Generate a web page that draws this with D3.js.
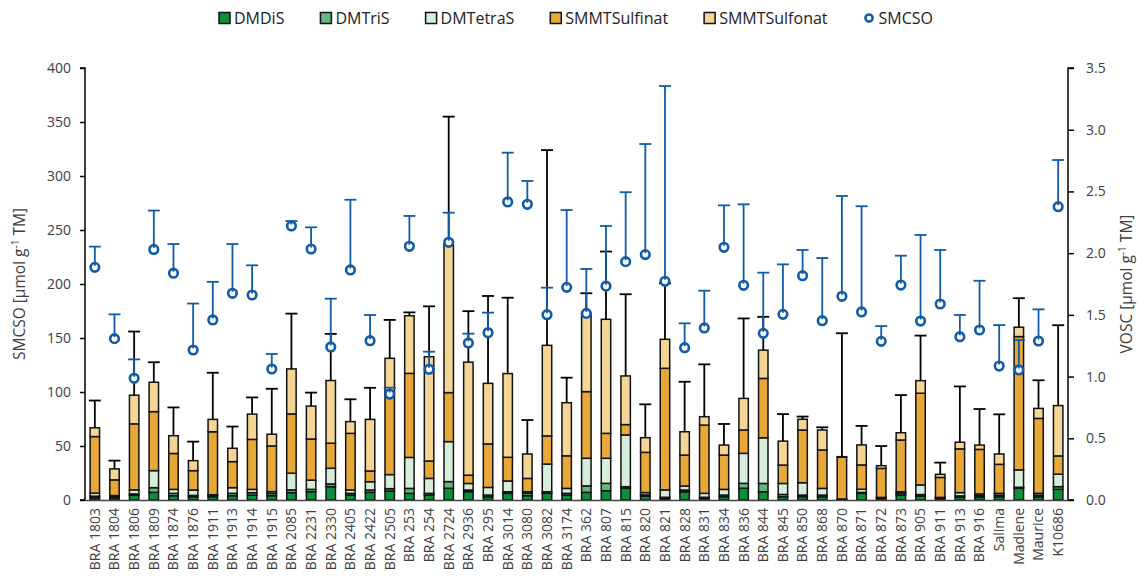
<!DOCTYPE html>
<html><head><meta charset="utf-8">
<script src="https://cdn.jsdelivr.net/npm/d3@7"></script>
<style>
html,body{margin:0;padding:0;background:#fff;}
svg{display:block;font-family:"Open Sans",sans-serif;}
</style></head>
<body><svg id="chart" width="1145" height="576"></svg>
<script>
const categories = ["BRA 1803","BRA 1804","BRA 1806","BRA 1809","BRA 1874","BRA 1876","BRA 1911","BRA 1913","BRA 1914","BRA 1915","BRA 2085","BRA 2231","BRA 2330","BRA 2405","BRA 2422","BRA 2505","BRA 253","BRA 254","BRA 2724","BRA 2936","BRA 295","BRA 3014","BRA 3080","BRA 3082","BRA 3174","BRA 362","BRA 807","BRA 815","BRA 820","BRA 821","BRA 828","BRA 831","BRA 834","BRA 836","BRA 844","BRA 845","BRA 850","BRA 868","BRA 870","BRA 871","BRA 872","BRA 873","BRA 905","BRA 911","BRA 913","BRA 916","Salima","Madlene","Maurice","K10686"];

// VOSC components (µmol g-1 TM, right axis)
const DMDiS = [0.018,0.018,0.038,0.062,0.035,0.026,0.026,0.035,0.040,0.035,0.060,0.067,0.108,0.040,0.062,0.073,0.054,0.040,0.095,0.067,0.026,0.054,0.035,0.054,0.040,0.062,0.075,0.095,0.031,0.013,0.067,0.013,0.026,0.095,0.067,0.026,0.027,0.026,0.003,0.054,0.013,0.040,0.031,0.013,0.022,0.022,0.026,0.095,0.026,0.087];
const DMTriS = [0.013,0.009,0.011,0.038,0.019,0.011,0.013,0.019,0.019,0.018,0.022,0.019,0.022,0.014,0.019,0.019,0.040,0.014,0.054,0.014,0.014,0.013,0.019,0.013,0.014,0.052,0.060,0.013,0.010,0.009,0.014,0.009,0.014,0.040,0.067,0.019,0.013,0.014,0.002,0.008,0.004,0.014,0.013,0.004,0.011,0.013,0.013,0.008,0.013,0.021];
const DMTetraS = [0.024,0.009,0.033,0.138,0.032,0.044,0.004,0.046,0.027,0.015,0.135,0.075,0.127,0.027,0.067,0.114,0.251,0.121,0.324,0.053,0.062,0.087,0.013,0.224,0.040,0.224,0.203,0.419,0.019,0.060,0.032,0.032,0.046,0.243,0.370,0.089,0.100,0.054,0.003,0.025,0.004,0.013,0.078,0.004,0.027,0.014,0.015,0.141,0.015,0.101];
const SMMTSulfinat = [0.459,0.127,0.535,0.478,0.291,0.157,0.510,0.211,0.405,0.370,0.480,0.333,0.203,0.459,0.087,0.643,0.681,0.141,0.397,0.067,0.352,0.192,0.108,0.228,0.264,0.540,0.202,0.084,0.326,0.985,0.251,0.553,0.278,0.189,0.481,0.149,0.427,0.311,0.339,0.197,0.235,0.419,0.743,0.162,0.354,0.361,0.235,1.080,0.607,0.148];
const SMMTSulfonat = [0.071,0.089,0.232,0.238,0.144,0.081,0.100,0.108,0.205,0.095,0.365,0.267,0.508,0.095,0.418,0.299,0.467,0.845,1.201,0.916,0.491,0.678,0.198,0.734,0.430,0.634,0.924,0.394,0.119,0.235,0.189,0.068,0.081,0.256,0.229,0.194,0.087,0.162,0.004,0.162,0.022,0.059,0.102,0.025,0.054,0.035,0.084,0.076,0.081,0.408];
const VOSC_SD = [0.221,0.067,0.516,0.162,0.229,0.154,0.378,0.176,0.135,0.368,0.448,0.109,0.378,0.181,0.256,0.311,0.027,0.408,1.035,0.413,0.708,0.615,0.275,1.582,0.203,0.163,0.549,0.662,0.270,0.453,0.405,0.424,0.171,0.648,0.270,0.219,0.022,0.022,1.000,0.154,0.159,0.305,0.365,0.095,0.452,0.292,0.321,0.235,0.228,0.651];

// SMCSO (µmol g-1 TM, left axis)
const SMCSO = [215.4,149.4,112.7,232,210,138.9,166.7,191.4,189.8,121.3,253.7,232.4,141.7,213,147.5,98.1,234.9,121,238.6,145.4,154.9,276,273.8,171.6,196.9,172.8,198,220.7,227.2,202.5,141,159.3,234,198.8,154.3,171.9,207.7,166,188.6,174.1,146.9,199,165.7,181.5,151.2,157.4,124,120.4,147.2,271.6];
const SMCSO_SD = [19.2,22.5,17.5,36,27,43,35.3,45.6,27.5,13.9,4.6,20.1,44.7,65,23.8,5.9,28.1,16.3,27.4,8.6,18.6,45.6,21.6,25,71.6,41.1,55.7,64.3,102.4,180.8,22.6,34.5,38.8,75,56.2,46.3,23.8,58,92.9,97.9,14.1,27.2,79.7,50,20.1,45.6,38,27.7,29.3,43.2];

const leftTicks = [0,50,100,150,200,250,300,350,400];
const rightTicks = [0,0.5,1.0,1.5,2.0,2.5,3.0,3.5];
const seriesNames = ["DMDiS","DMTriS","DMTetraS","SMMTSulfinat","SMMTSulfonat"];
const seriesColors = ["#0a8f3c","#62b87e","#d5edd9","#e8a838","#f5d596"];
const blue = "#0f5ba7";
const textCol = "#404040";

const svg = d3.select("#chart");
const L = 85, R = 1068, T = 68, B = 500;

const x = d3.scaleBand().domain(categories).range([L, R]).paddingInner(0.52).paddingOuter(0.26);
const yL = d3.scaleLinear().domain([0, 400]).range([B, T]);
const yR = d3.scaleLinear().domain([0, 3.5]).range([B, T]);

const rows = categories.map((c, i) => ({cat: c, DMDiS: DMDiS[i], DMTriS: DMTriS[i], DMTetraS: DMTetraS[i], SMMTSulfinat: SMMTSulfinat[i], SMMTSulfonat: SMMTSulfonat[i]}));
const stacked = d3.stack().keys(seriesNames)(rows);

// bars
const gBars = svg.append("g");
stacked.forEach((s, si) => {
  gBars.selectAll(null).data(s).enter().append("rect")
    .attr("x", d => x(d.data.cat))
    .attr("width", x.bandwidth())
    .attr("y", d => yR(d[1]))
    .attr("height", d => Math.max(0, yR(d[0]) - yR(d[1])))
    .attr("fill", seriesColors[si])
    .attr("stroke", "#111")
    .attr("stroke-width", 1.5);
});

// VOSC error bars
const tops = categories.map((c, i) => DMDiS[i] + DMTriS[i] + DMTetraS[i] + SMMTSulfinat[i] + SMMTSulfonat[i]);
const gErr = svg.append("g").attr("stroke", "#000").attr("stroke-width", 1.8);
categories.forEach((c, i) => {
  const cx = x(c) + x.bandwidth() / 2;
  const y0 = yR(tops[i]), y1 = yR(tops[i] + VOSC_SD[i]);
  gErr.append("line").attr("x1", cx).attr("x2", cx).attr("y1", y0).attr("y2", y1);
  gErr.append("line").attr("x1", cx - 6).attr("x2", cx + 6).attr("y1", y1).attr("y2", y1);
});

// SMCSO points + error bars
const gS = svg.append("g");
categories.forEach((c, i) => {
  const cx = x(c) + x.bandwidth() / 2;
  const y0 = yL(SMCSO[i]), y1 = yL(SMCSO[i] + SMCSO_SD[i]);
  gS.append("circle").attr("cx", cx).attr("cy", y0).attr("r", 4.3)
    .attr("fill", "#fff").attr("stroke", blue).attr("stroke-width", 2.6);
  gS.append("line").attr("x1", cx).attr("x2", cx).attr("y1", y0 - 1.5).attr("y2", y1)
    .attr("stroke", blue).attr("stroke-width", 1.8);
  gS.append("line").attr("x1", cx - 6).attr("x2", cx + 6).attr("y1", y1).attr("y2", y1)
    .attr("stroke", blue).attr("stroke-width", 1.8);
});

// axes
const axL = d3.axisLeft(yL).tickValues(leftTicks).tickSize(5).tickPadding(9);
const gL = svg.append("g").attr("transform", `translate(${L},0)`).call(axL);
const axR = d3.axisRight(yR).tickValues(rightTicks).tickSize(6).tickPadding(12).tickFormat(d3.format(".1f"));
const gR = svg.append("g").attr("transform", `translate(${R},0)`).call(axR);
[gL, gR].forEach(g => {
  g.select(".domain").attr("stroke", "#000").attr("stroke-width", 1.5);
  g.selectAll(".tick line").attr("stroke", "#000").attr("stroke-width", 1.5);
  g.selectAll(".tick text").attr("fill", textCol).style("font-size", "14px").style("font-family", "'Open Sans',sans-serif");
});
gL.select(".domain").attr("d", `M-5,${T}H0V${B}H-5`);
gR.select(".domain").attr("d", `M6,${T}H0V${B}H6`);

const axB = d3.axisBottom(x).tickSize(0).tickPadding(0);
const gB = svg.append("g").attr("transform", `translate(0,${B})`).call(axB);
gB.select(".domain").attr("stroke", "#444").attr("stroke-width", 1.5);
gB.selectAll(".tick text")
  .attr("transform", "rotate(-90)")
  .attr("text-anchor", "end")
  .attr("x", -8).attr("y", 0).attr("dy", "0.35em")
  .attr("fill", textCol).style("font-size", "14px").style("font-family", "'Open Sans',sans-serif");

// axis titles
const tL = svg.append("text").attr("transform", `translate(25,${(T + B) / 2}) rotate(-90)`)
  .attr("text-anchor", "middle").attr("fill", textCol).style("font-size", "15.5px");
tL.append("tspan").text("SMCSO [µmol g");
tL.append("tspan").text("-1").style("font-size", "10px").attr("dy", "-6");
tL.append("tspan").text(" TM]").attr("dy", "6");

const tR = svg.append("text").attr("transform", `translate(1132,${(T + B) / 2}) rotate(-90)`)
  .attr("text-anchor", "middle").attr("fill", textCol).style("font-size", "15.5px");
tR.append("tspan").text("VOSC [µmol g");
tR.append("tspan").text("-1").style("font-size", "10px").attr("dy", "-6");
tR.append("tspan").text(" TM]").attr("dy", "6");

// legend
const legendItems = seriesNames.map((n, i) => ({name: n, color: seriesColors[i], type: "rect"}))
  .concat([{name: "SMCSO", color: blue, type: "circle"}]);
const gLeg = svg.append("g");
let lx = 0;
const ly = 18;
const gap = 36;
legendItems.forEach(it => {
  const g = gLeg.append("g").attr("transform", `translate(${lx},0)`);
  if (it.type === "rect") {
    g.append("rect").attr("x", 0).attr("y", ly - 5.5).attr("width", 11).attr("height", 11)
      .attr("fill", it.color).attr("stroke", "#111").attr("stroke-width", 1.5);
  } else {
    g.append("circle").attr("cx", 5.5).attr("cy", ly).attr("r", 3.6)
      .attr("fill", "#fff").attr("stroke", it.color).attr("stroke-width", 2.5);
  }
  const t = g.append("text").attr("x", 15).attr("y", ly).attr("dy", "0.35em")
    .attr("fill", "#222").style("font-size", "16px").text(it.name);
  lx += 15 + t.node().getComputedTextLength() + gap;
});
const legW = lx - gap;
gLeg.attr("transform", `translate(${(207 + 945) / 2 - legW / 2},0)`);
</script>
</body></html>
